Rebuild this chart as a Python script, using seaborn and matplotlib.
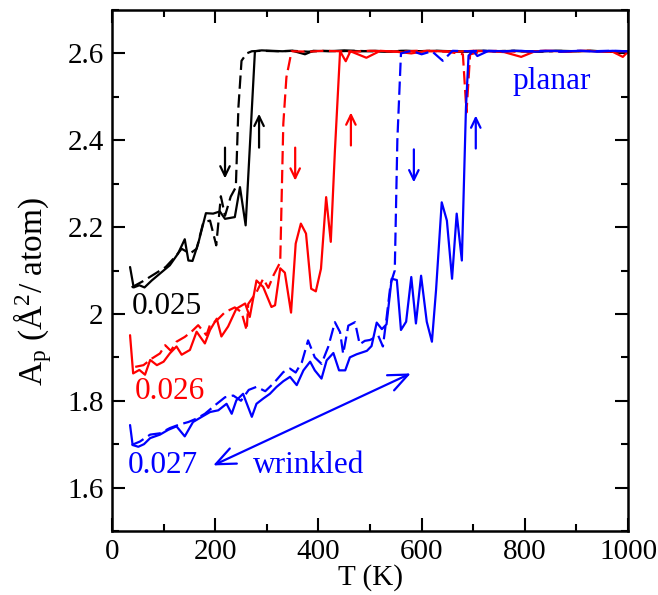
import matplotlib
matplotlib.use("Agg")
import matplotlib.pyplot as plt
import seaborn as sns
from matplotlib.ticker import MultipleLocator, FormatStrFormatter

# ---------------- data ----------------
# 0.025 heating (solid) / cooling (dashed)
T_bk_heat = [35, 42, 53, 63, 77, 93, 112, 128, 141, 148,
             156, 167, 182, 196, 209, 219, 238, 248, 259, 277,
             290, 310, 330, 350, 374, 390, 420, 450, 480, 510,
             540, 570, 600, 630, 660, 690, 720, 750, 780, 810,
             840, 870, 900, 930, 960, 1000]
A_bk_heat = [2.108, 2.061, 2.066, 2.061, 2.077, 2.093, 2.112, 2.139, 2.172, 2.123,
             2.122, 2.162, 2.232, 2.231, 2.236, 2.219, 2.223, 2.292, 2.204, 2.605,
             2.607, 2.606, 2.605, 2.606, 2.598, 2.606, 2.605, 2.607, 2.605, 2.606,
             2.604, 2.606, 2.605, 2.606, 2.605, 2.604, 2.606, 2.605, 2.606, 2.604,
             2.605, 2.606, 2.605, 2.606, 2.604, 2.603]
T_bk_cool = [38, 61, 84, 104, 122, 135, 151, 164, 177, 190,
             202, 211, 219, 230, 240, 245, 251, 261, 271, 290,
             320, 350, 380, 410, 440, 470, 500, 530, 560, 590,
             620, 650, 680, 710, 740, 770, 800, 830, 860, 890,
             920, 950, 980, 1000]
A_bk_cool = [2.061, 2.076, 2.093, 2.108, 2.131, 2.150, 2.139, 2.150, 2.211, 2.215,
             2.158, 2.271, 2.226, 2.270, 2.292, 2.476, 2.583, 2.600, 2.605, 2.606,
             2.605, 2.606, 2.604, 2.606, 2.605, 2.606, 2.605, 2.604, 2.606, 2.605,
             2.606, 2.605, 2.604, 2.606, 2.605, 2.606, 2.605, 2.604, 2.606, 2.605,
             2.606, 2.605, 2.604, 2.605]

# 0.026
T_rd_heat = [35, 41, 53, 64, 74, 87, 100, 112, 125, 135,
             151, 164, 180, 190, 203, 212, 225, 241, 258, 267,
             280, 293, 309, 316, 326, 335, 347, 356, 366, 376,
             386, 395, 405, 415, 424, 432, 442, 453, 462, 493,
             520, 550, 580, 610, 640, 670, 700, 730, 760, 793,
             820, 850, 880, 910, 940, 970, 990, 1000]
A_rd_heat = [1.951, 1.863, 1.871, 1.860, 1.894, 1.882, 1.890, 1.909, 1.925, 1.906,
             1.917, 1.959, 1.932, 1.963, 1.989, 1.948, 1.971, 2.012, 2.024, 1.993,
             2.077, 2.062, 2.016, 2.020, 2.105, 2.095, 2.003, 2.162, 2.208, 2.185,
             2.058, 2.052, 2.104, 2.269, 2.166, 2.376, 2.605, 2.582, 2.605, 2.590,
             2.606, 2.604, 2.600, 2.606, 2.605, 2.604, 2.606, 2.605, 2.603, 2.592,
             2.605, 2.606, 2.604, 2.606, 2.605, 2.604, 2.592, 2.604]
T_rd_cool = [45, 61, 77, 93, 103, 114, 125, 141, 154, 167,
             183, 190, 203, 219, 238, 251, 261, 264, 280, 293,
             303, 313, 326, 332, 338, 348, 380, 410, 440, 470,
             500, 530, 560, 590, 620, 650, 680, 687, 694, 720,
             750, 780, 810, 840, 870, 900, 930, 960, 1000]
A_rd_cool = [1.878, 1.882, 1.897, 1.909, 1.928, 1.915, 1.936, 1.947, 1.959, 1.974,
             1.951, 1.975, 1.985, 2.004, 2.015, 2.004, 1.962, 2.023, 2.050, 2.081,
             2.060, 2.089, 2.119, 2.438, 2.545, 2.605, 2.604, 2.606, 2.605, 2.604,
             2.606, 2.605, 2.604, 2.606, 2.605, 2.604, 2.598, 2.464, 2.598, 2.605,
             2.606, 2.604, 2.605, 2.606, 2.604, 2.605, 2.606, 2.604, 2.605]

# 0.027
T_bl_heat = [35, 40, 51, 62, 74, 93, 109, 125, 141, 157,
             174, 190, 206, 222, 232, 241, 254, 271, 280, 293,
             306, 319, 332, 345, 358, 371, 384, 393, 406, 416,
             429, 440, 452, 461, 474, 494, 503, 513, 523, 532,
             542, 552, 560, 570, 580, 589, 599, 610, 620, 628,
             639, 649, 659, 668, 678, 686, 691, 700, 708, 730,
             760, 790, 820, 850, 880, 910, 940, 970, 1000]
A_bl_heat = [1.744, 1.698, 1.694, 1.700, 1.714, 1.722, 1.733, 1.741, 1.718, 1.751,
             1.763, 1.774, 1.778, 1.793, 1.770, 1.801, 1.816, 1.763, 1.793, 1.805,
             1.816, 1.832, 1.845, 1.855, 1.836, 1.870, 1.890, 1.870, 1.851, 1.893,
             1.910, 1.870, 1.870, 1.900, 1.907, 1.915, 1.926, 1.980, 1.965, 1.976,
             2.081, 2.078, 1.963, 1.982, 2.085, 1.978, 2.088, 1.982, 1.936, 2.055,
             2.257, 2.215, 2.081, 2.231, 2.123, 2.476, 2.595, 2.606, 2.594, 2.606,
             2.605, 2.606, 2.604, 2.606, 2.605, 2.606, 2.604, 2.606, 2.605]
T_bl_cool = [38, 54, 74, 93, 112, 130, 148, 164, 180, 200,
             219, 235, 250, 265, 280, 297, 313, 332, 345, 356,
             368, 380, 393, 406, 419, 432, 442, 448, 458, 471,
             480, 490, 500, 516, 525, 532, 540, 548, 553, 560,
             580, 600, 620, 641, 660, 690, 720, 750, 780, 810,
             840, 870, 900, 930, 960, 1000]
A_bl_cool = [1.698, 1.706, 1.722, 1.725, 1.737, 1.745, 1.751, 1.759, 1.770, 1.790,
             1.808, 1.812, 1.800, 1.825, 1.832, 1.822, 1.840, 1.866, 1.874, 1.865,
             1.889, 1.939, 1.900, 1.885, 1.924, 1.981, 1.958, 1.908, 1.973, 1.981,
             1.930, 1.938, 1.940, 1.950, 1.925, 1.990, 2.070, 2.100, 2.400, 2.600,
             2.606, 2.598, 2.605, 2.583, 2.606, 2.605, 2.606, 2.604, 2.606, 2.605,
             2.606, 2.604, 2.606, 2.605, 2.606, 2.605]

series_colors = ["black", "#ff0000", "#0000ff"]
series_labels = ["0.025", "0.026", "0.027"]

# small vertical arrows (x, y_start, y_end, colour index)
arrow_x = [219, 285, 355, 463, 585, 705]
arrow_y0 = [2.383, 2.383, 2.383, 2.388, 2.379, 2.381]
arrow_y1 = [2.312, 2.461, 2.307, 2.464, 2.303, 2.457]
arrow_c = [0, 0, 1, 1, 2, 2]

# ---------------- style ----------------
sns.set_style("ticks")
plt.rcParams["font.family"] = ["Liberation Serif", "DejaVu Serif"]
plt.rcParams["mathtext.fontset"] = "custom"
plt.rcParams["mathtext.rm"] = "Liberation Serif"
plt.rcParams["mathtext.it"] = "Liberation Serif:italic"
plt.rcParams["font.size"] = 21
for k in ["axes.edgecolor", "xtick.color", "ytick.color", "text.color",
          "axes.labelcolor", "xtick.labelcolor", "ytick.labelcolor"]:
    plt.rcParams[k] = "black"

fig = plt.figure(figsize=(6.58, 5.95), dpi=100)
ax = fig.add_axes([112 / 658, 64 / 595, 516 / 658, 521 / 595])

dash = (0, (6, 2.5))
data = [(T_bk_heat, A_bk_heat, T_bk_cool, A_bk_cool),
        (T_rd_heat, A_rd_heat, T_rd_cool, A_rd_cool),
        (T_bl_heat, A_bl_heat, T_bl_cool, A_bl_cool)]
for (th, ah, tc, ac), col in zip(data, series_colors):
    sns.lineplot(x=tc, y=ac, ax=ax, color=col, lw=1.6, linestyle=dash,
                 sort=False, estimator=None)
    sns.lineplot(x=th, y=ah, ax=ax, color=col, lw=1.6,
                 sort=False, estimator=None)

ax.set_xlim(0, 1000)
ax.set_ylim(1.5, 2.7)
ax.xaxis.set_major_locator(MultipleLocator(200))
ax.xaxis.set_minor_locator(MultipleLocator(100))
ax.yaxis.set_major_locator(MultipleLocator(0.2))
ax.yaxis.set_minor_locator(MultipleLocator(0.1))
ax.yaxis.set_major_formatter(FormatStrFormatter("%g"))
ax.tick_params(which="both", direction="in", top=True, right=True,
               width=1.5, labelsize=21, pad=6, colors="black")
ax.tick_params(which="major", length=9.5)
ax.tick_params(which="minor", length=5)
for s in ax.spines.values():
    s.set_linewidth(1.8)
    s.set_color("black")

ax.set_xlabel("T (K)", fontsize=21, labelpad=-1)
ax.set_ylabel(r"A$_\mathrm{p}$ ($\mathrm{\AA}^2$/ atom)", fontsize=24)
ax.yaxis.set_label_coords(-0.112, 0.46)

# labels
lab_fs = 22.5
ax.text(38, 2.0, series_labels[0], color=series_colors[0], fontsize=lab_fs,
        ha="left", va="baseline")
ax.text(44, 1.805, series_labels[1], color=series_colors[1], fontsize=lab_fs,
        ha="left", va="baseline")
ax.text(31, 1.633, series_labels[2], color=series_colors[2], fontsize=lab_fs,
        ha="left", va="baseline")
ax.text(273, 1.633, "wrinkled", color="#0000ff", fontsize=lab_fs,
        ha="left", va="baseline")
ax.text(777, 2.518, "planar", color="#0000ff", fontsize=lab_fs,
        ha="left", va="baseline")

# double arrow
ax.annotate("", xy=(196, 1.651), xytext=(579, 1.863),
            arrowprops=dict(arrowstyle="<->,head_length=0.7,head_width=0.3",
                            color="#0000ff", lw=1.6, shrinkA=0, shrinkB=0,
                            mutation_scale=20))

for x, y0, y1, ci in zip(arrow_x, arrow_y0, arrow_y1, arrow_c):
    ax.annotate("", xy=(x, y1), xytext=(x, y0),
                arrowprops=dict(arrowstyle="->,head_length=0.35,head_width=0.17",
                                color=series_colors[ci], lw=1.6,
                                shrinkA=0, shrinkB=0, mutation_scale=20))

fig.savefig("out.png", dpi=100)
